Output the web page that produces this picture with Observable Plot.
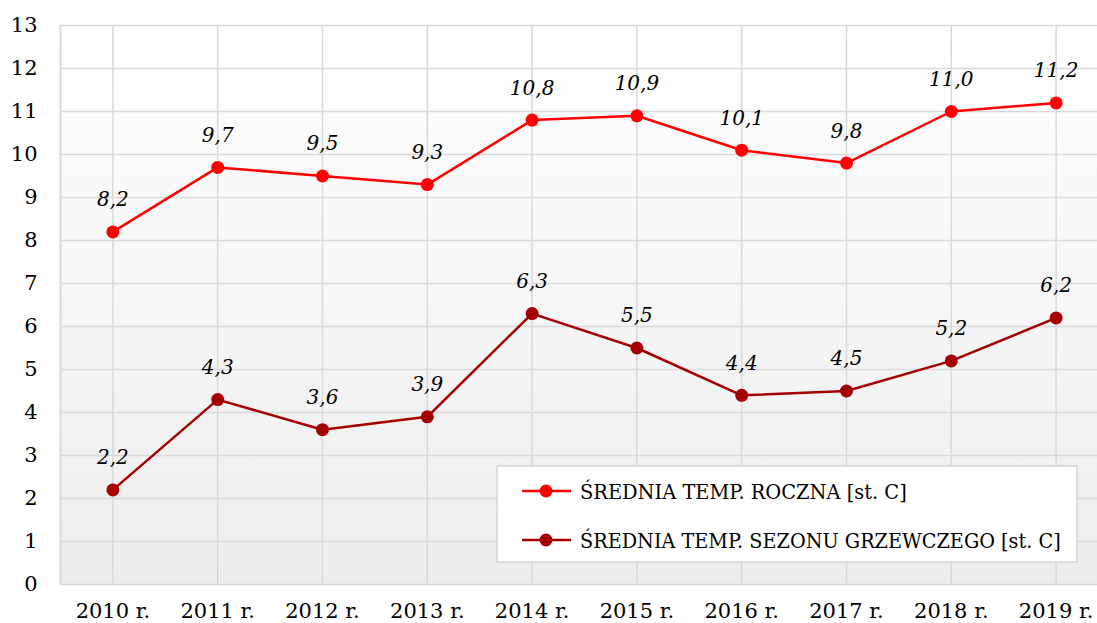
<!DOCTYPE html>
<html><head><meta charset="utf-8">
<script src="https://cdn.jsdelivr.net/npm/d3@7"></script>
<script src="https://cdn.jsdelivr.net/npm/@observablehq/plot@0.6"></script>
<style>
html,body{margin:0;padding:0;overflow:hidden;background:#fff}
#wrap{position:relative;width:1097px;height:623px;overflow:hidden}
</style></head>
<body><div id="wrap"></div>
<script>
const years = ["2010 r.", "2011 r.", "2012 r.", "2013 r.", "2014 r.", "2015 r.", "2016 r.", "2017 r.", "2018 r.", "2019 r."];
const annual = [8.2, 9.7, 9.5, 9.3, 10.8, 10.9, 10.1, 9.8, 11.0, 11.2];
const heating = [2.2, 4.3, 3.6, 3.9, 6.3, 5.5, 4.4, 4.5, 5.2, 6.2];
const seriesNames = ["ŚREDNIA TEMP. ROCZNA [st. C]", "ŚREDNIA TEMP. SEZONU GRZEWCZEGO [st. C]"];
const seriesColors = ["#ff0000", "#a50000"];
const yTicks = d3.range(0, 14);

const idx = years.map((_, i) => i);
const fmt = v => v.toFixed(1).replace(".", ",");
const gridColor = "#d9d9d9";

const defs = () => {
  const d = d3.create("svg:defs");
  const g = d.append("linearGradient").attr("id", "bg").attr("x1", 0).attr("y1", 0).attr("x2", 0).attr("y2", 1);
  g.append("stop").attr("offset", "0%").attr("stop-color", "#ffffff");
  g.append("stop").attr("offset", "100%").attr("stop-color", "#ededed");
  return d.node();
};

// legend drawn inside the plot's SVG
const legendTargetWidths = [327, 481];
const legendMark = () => {
  const g = d3.create("svg:g").attr("class", "legend");
  g.append("rect").attr("x", 497).attr("y", 466).attr("width", 580).attr("height", 96)
    .attr("fill", "#fff").attr("stroke", "#d4d4d4").attr("stroke-width", 1.5);
  seriesNames.forEach((name, s) => {
    const cy = s === 0 ? 491 : 540;
    g.append("line").attr("x1", 522).attr("x2", 571).attr("y1", cy).attr("y2", cy)
      .attr("stroke", seriesColors[s]).attr("stroke-width", 2.5);
    g.append("circle").attr("cx", 546).attr("cy", cy).attr("r", 6.5).attr("fill", seriesColors[s]);
    g.append("text").attr("class", "legend-text").attr("data-i", s)
      .attr("transform", `translate(580,${cy})`).attr("dy", "0.36em")
      .attr("text-anchor", "start")
      .attr("font-family", "'DejaVu Serif', serif").attr("font-size", 21)
      .attr("fill", "#000").text(name);
  });
  return g.node();
};

const seriesMarks = [annual, heating].flatMap((vals, s) => [
  Plot.line(idx, {x: i => i, y: i => vals[i], stroke: seriesColors[s], strokeWidth: 2.5}),
  Plot.dot(idx, {x: i => i, y: i => vals[i], fill: seriesColors[s], r: 6.5}),
  Plot.text(idx, {x: i => i, y: i => vals[i], text: i => fmt(vals[i]), dy: -32, fontStyle: "italic", fontSize: 20, fill: "#000"})
]);

const chart = Plot.plot({
  width: 1097, height: 623,
  marginTop: 25, marginBottom: 39, marginLeft: 60, marginRight: 0,
  style: {fontFamily: "'DejaVu Serif', serif", fontSize: "21px", color: "#000", background: "transparent"},
  x: {type: "linear", domain: [-0.5, 9.5], range: [60, 1108], ticks: idx, tickFormat: i => years[i], tickSize: 0, tickPadding: 19, label: null},
  y: {domain: [0, 13], ticks: yTicks, tickSize: 0, tickPadding: 23, label: null},
  marks: [
    defs,
    Plot.rect([0], {x1: () => -0.5, x2: () => 9.5, y1: () => 0, y2: () => 13, fill: "url(#bg)"}),
    Plot.ruleY(yTicks, {x1: () => -0.5, x2: () => 9.5, stroke: gridColor, strokeWidth: 1.5}),
    Plot.ruleX(idx, {y1: () => 0, y2: () => 13, stroke: gridColor, strokeWidth: 1.5}),
    Plot.ruleX([-0.5], {y1: () => 0, y2: () => 13, stroke: gridColor, strokeWidth: 2}),
    ...seriesMarks,
    legendMark
  ]
});
document.getElementById("wrap").appendChild(chart);

// condense legend labels horizontally to the reference's widths
chart.querySelectorAll("text.legend-text").forEach(t => {
  const i = +t.getAttribute("data-i");
  const L = t.getComputedTextLength();
  const sx = Math.min(1, legendTargetWidths[i] / L);
  const cy = i === 0 ? 491 : 540;
  t.setAttribute("transform", `translate(580,${cy}) scale(${sx},1)`);
});
</script>
</body></html>
